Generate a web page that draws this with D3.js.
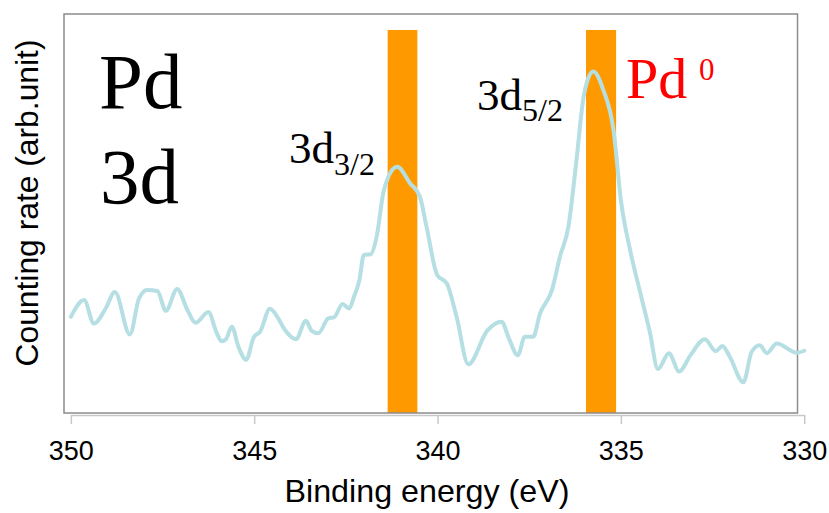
<!DOCTYPE html>
<html>
<head>
<meta charset="utf-8">
<script src="https://cdn.jsdelivr.net/npm/d3@7/dist/d3.min.js"></script>
<style>
  html, body { margin: 0; padding: 0; background: #fff; }
  svg { display: block; }
</style>
</head>
<body>
<svg id="chart" width="829" height="513"></svg>
<script>
// ---- data ----
const energy = [350.0, 349.64, 349.37, 349.05, 348.80, 348.39, 348.14, 347.92, 347.64, 347.41,
  347.10, 346.82, 346.60, 346.25, 346.02, 345.89, 345.77, 345.61, 345.43, 345.22,
  345.01, 344.84, 344.57, 344.37, 344.16, 343.86, 343.59, 343.43, 343.25, 342.98,
  342.82, 342.59, 342.41, 342.28, 342.13, 342.01, 341.82, 341.66, 341.48, 341.34,
  341.10, 340.75, 340.48, 340.30, 340.01, 339.75, 339.48, 339.16, 338.64, 338.25,
  338.07, 337.81, 337.62, 337.39, 337.21, 336.88, 336.66, 336.43, 336.21, 336.03,
  335.89, 335.75, 335.48, 335.20, 335.00, 334.75, 334.48, 334.21, 333.99, 333.69,
  333.41, 333.10, 332.71, 332.41, 332.23, 332.03, 331.66, 331.43, 331.21, 331.02,
  330.75, 330.20, 330.0];
const counts = [24.1, 28.3, 22.4, 26.2, 30.3, 19.7, 28.7, 30.8, 30.6, 25.6,
  31.1, 25.8, 22.6, 25.3, 20.0, 18.0, 18.5, 21.6, 16.6, 13.3,
  19.0, 20.4, 26.1, 24.1, 20.8, 18.5, 23.1, 20.6, 20.0, 23.7,
  24.0, 27.3, 26.2, 29.1, 33.3, 39.6, 39.8, 44.2, 55.1, 59.2,
  61.7, 57.6, 54.2, 46.7, 34.6, 32.5, 24.1, 12.2, 20.7, 22.9,
  19.1, 14.5, 19.1, 19.1, 24.8, 30.8, 39.2, 46.7, 63.4, 78.4,
  83.9, 85.6, 81.0, 70.9, 53.4, 40.9, 30.5, 20.3, 11.0, 15.0,
  10.4, 14.5, 18.5, 15.5, 16.8, 14.1, 7.7, 15.4, 17.0, 15.0,
  17.4, 15.1, 15.6];
const barStart = [341.36, 335.95];
const barEnd = [340.55, 335.13];
const barValue = [96, 96];
const xTicks = [350, 345, 340, 335, 330];
const xDomain = [350, 330];
const yDomain = [0, 100];

// ---- layout ----
const svg = d3.select("#chart");
const box = { left: 64, top: 14, right: 797.5, bottom: 413 };
const axisY = 415;

const x = d3.scaleLinear().domain(xDomain).range([70.85, 804.2]);
const y = d3.scaleLinear().domain(yDomain).range([box.bottom, box.top]);

// bars
svg.append("g").selectAll("rect")
  .data(barStart.map((s, i) => ({ s, e: barEnd[i], v: barValue[i] })))
  .join("rect")
  .attr("x", d => x(d.s))
  .attr("width", d => x(d.e) - x(d.s))
  .attr("y", d => y(d.v))
  .attr("height", d => y(0) - y(d.v))
  .attr("fill", "#ff9900");

// plot frame
svg.append("rect")
  .attr("x", box.left).attr("y", box.top)
  .attr("width", box.right - box.left).attr("height", box.bottom - box.top)
  .attr("fill", "none").attr("stroke", "#8c8c8c").attr("stroke-width", 1.5);

// x axis
const xAxis = d3.axisBottom(x).tickValues(xTicks).tickSize(9).tickSizeOuter(0).tickFormat(d3.format("d"));
const gx = svg.append("g").attr("transform", `translate(0,${axisY})`).call(xAxis);
gx.select(".domain").attr("stroke", "#c8c8c8").attr("stroke-width", 1.5);
gx.selectAll(".tick line").attr("stroke", "#c8c8c8").attr("stroke-width", 1.5);
gx.selectAll(".tick text")
  .attr("y", 26).attr("dy", "0.71em")
  .attr("font-family", "'Liberation Sans', Arial, sans-serif")
  .attr("font-size", 27).attr("fill", "#000");

// spectrum line
const line = d3.line().x((d, i) => x(energy[i])).y(d => y(d)).curve(d3.curveMonotoneX);
svg.append("path")
  .datum(counts)
  .attr("d", line)
  .attr("fill", "none")
  .attr("stroke", "#b5dfe3")
  .attr("stroke-width", 4)
  .attr("stroke-linejoin", "round")
  .attr("stroke-linecap", "round");

// axis titles
svg.append("text")
  .attr("x", 427).attr("y", 501.5)
  .attr("text-anchor", "middle")
  .attr("font-family", "'Liberation Sans', Arial, sans-serif")
  .attr("font-size", 32)
  .attr("textLength", 285).attr("lengthAdjust", "spacingAndGlyphs")
  .text("Binding energy (eV)");

svg.append("text")
  .attr("transform", "translate(37.5,203) rotate(-90)")
  .attr("text-anchor", "middle")
  .attr("font-family", "'Liberation Sans', Arial, sans-serif")
  .attr("font-size", 32)
  .attr("textLength", 327).attr("lengthAdjust", "spacingAndGlyphs")
  .text("Counting rate (arb.unit)");

// annotations
const serif = "'Liberation Serif', 'Times New Roman', serif";
svg.append("text").attr("x", 99).attr("y", 108).attr("font-family", serif).attr("font-size", 79).text("Pd");
svg.append("text").attr("x", 100).attr("y", 203).attr("font-family", serif).attr("font-size", 79).text("3d");

const t1 = svg.append("text").attr("x", 289).attr("y", 163).attr("font-family", serif).attr("font-size", 45);
t1.append("tspan").text("3d");
t1.append("tspan").attr("font-size", 32).attr("dy", 12).text("3/2");

const t2 = svg.append("text").attr("x", 477).attr("y", 110).attr("font-family", serif).attr("font-size", 45);
t2.append("tspan").text("3d");
t2.append("tspan").attr("font-size", 32).attr("dy", 11).text("5/2");

const t3 = svg.append("text").attr("x", 626).attr("y", 98).attr("font-family", serif).attr("font-size", 58).attr("fill", "#ff0000");
t3.append("tspan").text("Pd");
t3.append("tspan").attr("x", 699).attr("y", 80).attr("font-size", 31).text("0");
</script>
</body>
</html>
